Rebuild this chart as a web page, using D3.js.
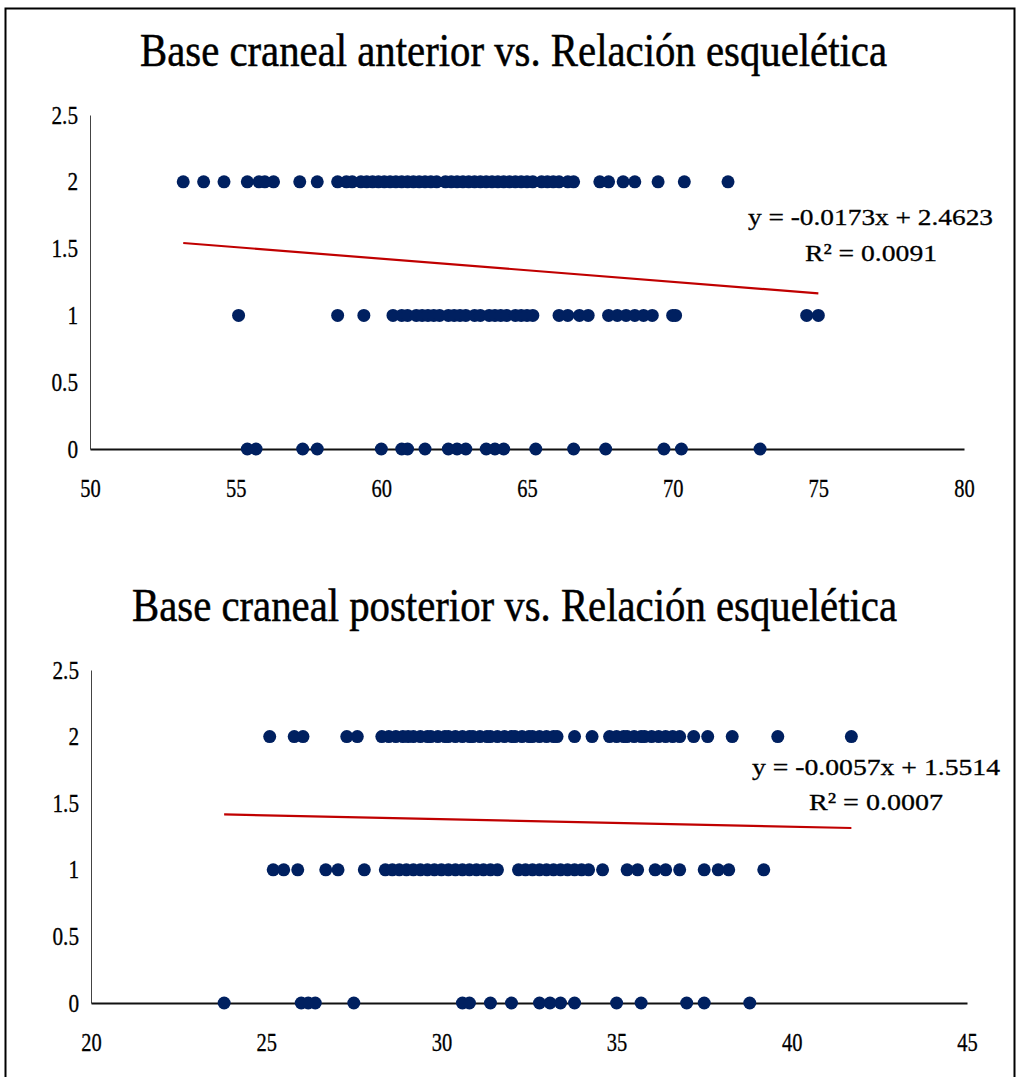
<!DOCTYPE html>
<html><head><meta charset="utf-8">
<script src="https://cdn.jsdelivr.net/npm/d3@7"></script>
<style>body{margin:0;background:#fff} svg{display:block}</style>
</head><body>
<svg id="c" width="1019" height="1077"></svg>
<script>
// ---------- data ----------
const title1 = "Base craneal anterior vs. Relación esquelética";
const title2 = "Base craneal posterior vs. Relación esquelética";
const xTicks1 = [50, 55, 60, 65, 70, 75, 80];
const xTicks2 = [20, 25, 30, 35, 40, 45];
const yTicks = [0, 0.5, 1, 1.5, 2, 2.5];
const yTickLabels = ["0", "0.5", "1", "1.5", "2", "2.5"];

// chart 1: Base craneal anterior (x) for each skeletal relation (y = 2, 1, 0)
const ant2 = [53.2,53.9,54.6,55.4,55.8,56.0,56.3,57.2,57.8,58.5,58.8,59.0,59.3,59.5,59.7,59.9,60.1,60.3,60.5,60.7,60.9,61.1,61.3,61.5,61.7,61.9,62.2,62.4,62.6,62.8,63.0,63.2,63.4,63.6,63.8,64.0,64.2,64.4,64.6,64.8,65.0,65.2,65.5,65.7,65.9,66.1,66.4,66.6,67.5,67.8,68.3,68.7,69.5,70.4,71.9];
const ant1 = [55.1,58.5,59.4,60.4,60.7,60.9,61.2,61.4,61.6,61.8,62.0,62.3,62.5,62.7,62.9,63.2,63.4,63.7,63.9,64.1,64.3,64.6,64.8,65.0,65.2,66.1,66.4,66.8,67.1,67.8,68.1,68.4,68.7,69.0,69.3,70.0,70.1,74.6,75.0];
const ant0 = [55.4,55.7,57.3,57.8,60.0,60.7,60.9,61.5,62.3,62.6,62.9,63.6,63.9,64.2,65.3,66.6,67.7,69.7,70.3,73.0];
const trend1 = {slope: -0.0173, intercept: 2.4623, eq: "y = -0.0173x + 2.4623", r2: "R² = 0.0091"};

// chart 2: Base craneal posterior (x)
const post2 = [25.1,25.8,26.05,27.3,27.6,28.3,28.5,28.7,28.9,29.05,29.2,29.4,29.6,29.7,29.9,30.1,30.2,30.4,30.6,30.8,30.9,31.1,31.3,31.4,31.6,31.8,32.0,32.1,32.3,32.5,32.6,32.8,33.0,33.2,33.3,33.8,34.3,34.8,35.0,35.2,35.3,35.5,35.7,35.8,36.0,36.2,36.4,36.6,36.8,37.2,37.6,38.3,39.6,41.7];
const post1 = [25.2,25.5,25.9,26.7,27.05,27.8,28.4,28.6,28.8,29.0,29.2,29.4,29.6,29.8,30.0,30.2,30.4,30.6,30.8,31.0,31.2,31.4,31.6,32.2,32.4,32.6,32.8,33.0,33.2,33.4,33.6,33.8,34.0,34.2,34.6,35.3,35.6,36.1,36.4,36.8,37.5,37.9,38.2,39.2];
const post0 = [23.8,26.0,26.2,26.4,27.5,30.6,30.8,31.4,32.0,32.8,33.1,33.4,33.8,35.0,35.7,37.0,37.5,38.8];
const trend2 = {slope: -0.0057, intercept: 1.5514, eq: "y = -0.0057x + 1.5514", r2: "R² = 0.0007"};

// ---------- drawing ----------
const svg = d3.select("#c");
const SERIF = "'Liberation Serif','DejaVu Serif',serif";
const DOT = "#002060", LINE = "#C00000";

// frame
svg.append("path").attr("d", "M5.5,1077 V8.5 H1014.5 V1077")
  .attr("fill", "none").attr("stroke", "#000").attr("stroke-width", 2);

function chart(cfg) {
  const x = d3.scaleLinear().domain(cfg.xDomain).range(cfg.xRange);
  const y = d3.scaleLinear().domain([0, 2.5]).range(cfg.yRange);
  const g = svg.append("g");

  // title
  g.append("text").attr("x", (cfg.titleX0 + cfg.titleX1) / 2).attr("y", cfg.titleY)
    .attr("text-anchor", "middle").attr("font-family", SERIF).attr("font-size", 46)
    .attr("textLength", cfg.titleX1 - cfg.titleX0).attr("lengthAdjust", "spacingAndGlyphs")
    .attr("fill", "#000").attr("stroke", "#000").attr("stroke-width", 0.5).text(cfg.title);

  // y axis
  const ya = g.append("g").attr("transform", `translate(${cfg.xRange[0]},0)`)
    .call(d3.axisLeft(y).tickValues(yTicks).tickSize(0).tickSizeOuter(0)
      .tickFormat((d, i) => yTickLabels[i]));
  ya.select(".domain").attr("stroke", "#444").attr("stroke-width", 1);
  ya.selectAll("text").attr("x", null).attr("dy", null)
    .attr("font-family", SERIF).attr("font-size", 25).attr("fill", "#000")
    .attr("stroke", "#000").attr("stroke-width", 0.3)
    .attr("text-anchor", "end")
    .attr("transform", "translate(-12,8) scale(0.85,1)");

  // x axis
  const xa = g.append("g").attr("transform", `translate(0,${cfg.yRange[0]})`)
    .call(d3.axisBottom(x).tickValues(cfg.xTicks).tickSize(0).tickSizeOuter(0));
  xa.select(".domain").attr("stroke", "#111").attr("stroke-width", 2);
  xa.selectAll("text").attr("y", null).attr("dy", null)
    .attr("font-family", SERIF).attr("font-size", 25).attr("fill", "#000")
    .attr("stroke", "#000").attr("stroke-width", 0.3)
    .attr("text-anchor", "middle")
    .attr("transform", `translate(0,${cfg.labelDy}) scale(0.82,1)`);

  // points
  const rows = [[cfg.s2, 2], [cfg.s1, 1], [cfg.s0, 0]];
  rows.forEach(([vals, yv]) => {
    g.append("g").selectAll("circle").data(vals).join("circle")
      .attr("cx", d => x(d)).attr("cy", y(yv)).attr("r", 6.5).attr("fill", DOT);
  });

  // trend line over data range
  const all = cfg.s2.concat(cfg.s1, cfg.s0);
  const [mn, mx] = d3.extent(all);
  const t = cfg.trend;
  g.append("line")
    .attr("x1", x(mn)).attr("y1", y(t.slope * mn + t.intercept))
    .attr("x2", x(mx)).attr("y2", y(t.slope * mx + t.intercept))
    .attr("stroke", LINE).attr("stroke-width", 2.2);

  // equation labels
  g.append("text").attr("x", cfg.eq[0]).attr("y", cfg.eq[1])
    .attr("font-family", SERIF).attr("font-size", 24).attr("fill", "#000")
    .attr("stroke", "#000").attr("stroke-width", 0.3)
    .attr("textLength", cfg.eq[2]).attr("lengthAdjust", "spacingAndGlyphs").text(t.eq);
  g.append("text").attr("x", cfg.r2[0]).attr("y", cfg.r2[1])
    .attr("font-family", SERIF).attr("font-size", 24).attr("fill", "#000")
    .attr("stroke", "#000").attr("stroke-width", 0.3)
    .attr("textLength", cfg.r2[2]).attr("lengthAdjust", "spacingAndGlyphs").text(t.r2);
}

chart({
  title: title1, titleX0: 140, titleX1: 887, titleY: 66,
  xDomain: [50, 80], xRange: [90, 964], yRange: [449, 115], xTicks: xTicks1, labelDy: 48,
  s2: ant2, s1: ant1, s0: ant0, trend: trend1,
  eq: [748, 225, 245], r2: [805, 261, 132]
});
chart({
  title: title2, titleX0: 132, titleX1: 897, titleY: 621,
  xDomain: [20, 45], xRange: [91, 967], yRange: [1003, 670], xTicks: xTicks2, labelDy: 48,
  s2: post2, s1: post1, s0: post0, trend: trend2,
  eq: [752, 775, 248], r2: [809, 810, 134]
});
</script>
</body></html>
